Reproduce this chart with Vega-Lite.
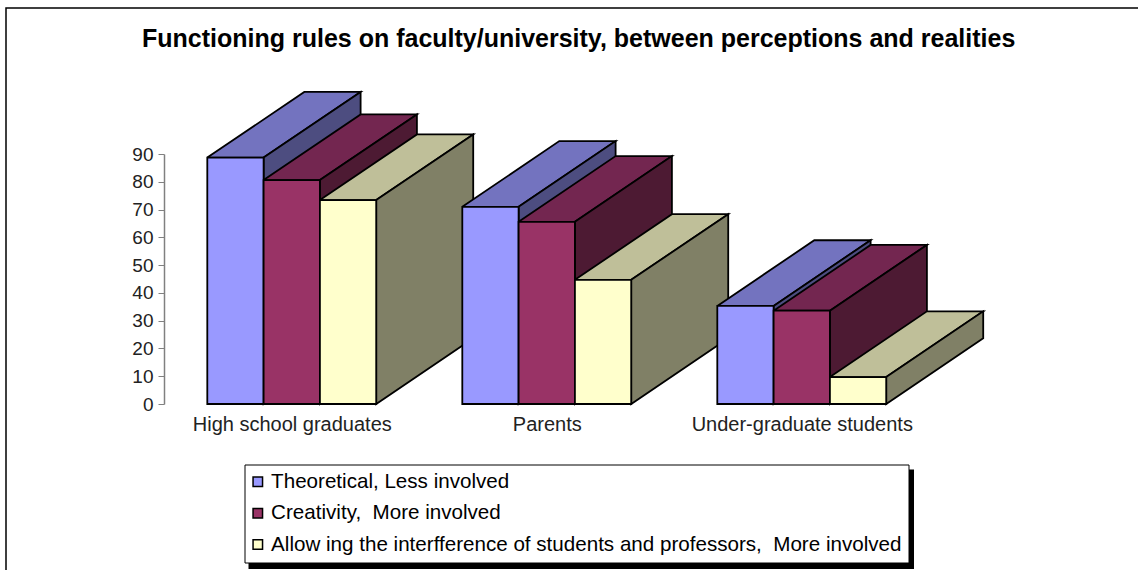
{
"$schema":"https://vega.github.io/schema/vega-lite/v6.json",
"width":1200,"height":600,
"autosize":{"type":"none"},
"padding":{"left":6,"top":8,"right":0,"bottom":0},
"background":"white",
"config":{"view":{"stroke":"#000000","strokeWidth":1.5,"fill":"white"},"font":"Liberation Sans"},
"title":{"text":"Functioning rules on faculty/university, between perceptions and realities","anchor":"start","dx":136,"offset":-44,"fontSize":25,"fontWeight":"bold","font":"Liberation Sans","color":"#000000"},
"datasets":{"bars":[
{"group":"High school graduates","series":"Theoretical, Less involved","g":0,"s":0,"value":88.7},
{"group":"High school graduates","series":"Creativity,\u00a0 More involved","g":0,"s":1,"value":80.6},
{"group":"High school graduates","series":"Allow ing the interfference of students and professors,\u00a0 More involved","g":0,"s":2,"value":73.4},
{"group":"Parents","series":"Theoretical, Less involved","g":1,"s":0,"value":71},
{"group":"Parents","series":"Creativity,\u00a0 More involved","g":1,"s":1,"value":65.6},
{"group":"Parents","series":"Allow ing the interfference of students and professors,\u00a0 More involved","g":1,"s":2,"value":44.7},
{"group":"Under-graduate students","series":"Theoretical, Less involved","g":2,"s":0,"value":35.3},
{"group":"Under-graduate students","series":"Creativity,\u00a0 More involved","g":2,"s":1,"value":33.6},
{"group":"Under-graduate students","series":"Allow ing the interfference of students and professors,\u00a0 More involved","g":2,"s":2,"value":9.7}
]},
"layer":[
{"data":{"values":[{"part":"legend shadow"}]},
 "mark":{"type":"rect","color":"#000000"},
 "encoding":{
  "x":{"datum":0.1616,"type":"quantitative","title":null,"scale":{"domain":[0,3],"range":[201.3,966.3],"nice":false,"zero":false}},
  "x2":{"datum":2.7714},
  "y":{"datum":-23.6,"type":"quantitative","title":null,"scale":{"domain":[0,90],"range":[396,146],"nice":false,"zero":false}},
  "y2":{"datum":-59.4}
 }},
{"data":{"name":"bars"},
 "transform":[
  {"calculate":"['top','side']","as":"face"},{"flatten":["face"]},
  {"calculate":"[0,1,2,3,4]","as":"i"},{"flatten":["i"]},
  {"calculate":"datum.g+datum.s*0.2208","as":"x0"},
  {"calculate":"datum.x0+0.2208","as":"x1"},
  {"calculate":"datum.face=='top'?[datum.x0,datum.x1,datum.x1+0.3804,datum.x0+0.3804][datum.i%4]:[datum.x1,datum.x1+0.3804,datum.x1+0.3804,datum.x1][datum.i%4]","as":"px"},
  {"calculate":"datum.face=='top'?[datum.value,datum.value,datum.value+23.65,datum.value+23.65][datum.i%4]:[datum.value,datum.value+23.65,23.65,0][datum.i%4]","as":"py"},
  {"calculate":"datum.s+'-'+datum.face","as":"key"},
  {"calculate":"datum.g+'-'+datum.key","as":"id"}
 ],
 "mark":{"type":"line","stroke":"#000000","strokeWidth":1.8,"strokeJoin":"miter","interpolate":"linear"},
 "encoding":{
  "x":{"field":"px","type":"quantitative","title":null},
  "y":{"field":"py","type":"quantitative","title":null},
  "order":{"field":"i","type":"quantitative"},
  "detail":{"field":"id"},
  "fill":{"field":"key","type":"nominal","legend":null,"scale":{"domain":["0-top","0-side","1-top","1-side","2-top","2-side"],"range":["#7373BF","#4D4D80","#732650","#4D1A33","#BFBF99","#808066"]}}
 }},
{"data":{"name":"bars"},
 "transform":[
  {"calculate":"datum.g+datum.s*0.2208","as":"x0"},
  {"calculate":"datum.x0+0.2208","as":"x1"}
 ],
 "mark":{"type":"rect","stroke":"#000000","strokeWidth":1.8},
 "encoding":{
  "x":{"field":"x0","type":"quantitative","title":null,"axis":{"values":[0.3312,1.3312,2.3312],"labelExpr":"datum.value<1?'High school graduates':datum.value<2?'Parents':'Under-graduate students'","domain":false,"ticks":false,"grid":false,"offset":-204,"labelFontSize":20,"labelLimit":400,"labelColor":"#222222","labelPadding":10,"labelFont":"Liberation Sans","labelOverlap":false,"labelFlush":false}},
  "x2":{"field":"x1"},
  "y":{"field":"value","type":"quantitative","title":null,"axis":{"values":[0,10,20,30,40,50,60,70,80,90],"domain":true,"domainColor":"#808080","domainWidth":1.5,"tickColor":"#808080","tickWidth":1,"tickSize":6,"grid":false,"offset":-158,"labelFontSize":19,"labelColor":"#222222","labelPadding":5,"labelFont":"Liberation Sans"}},
  "y2":{"datum":0},
  "color":{"field":"series","type":"nominal","title":null,
   "scale":{"domain":["Theoretical, Less involved","Creativity,\u00a0 More involved","Allow ing the interfference of students and professors,\u00a0 More involved"],"range":["#9999FF","#993366","#FFFFCC"]},
   "legend":{"orient":"none","legendX":238.5,"legendY":456.5,"fillColor":"white","strokeColor":"#000000","padding":7,"symbolType":"square","symbolSize":90,"symbolOffset":-4,"symbolStrokeColor":"#000000","symbolStrokeWidth":1.5,"labelFontSize":20.6,"labelColor":"#000000","labelFont":"Liberation Sans","labelLimit":800,"rowPadding":10.4,"labelOffset":3}}
 }}
]
}
